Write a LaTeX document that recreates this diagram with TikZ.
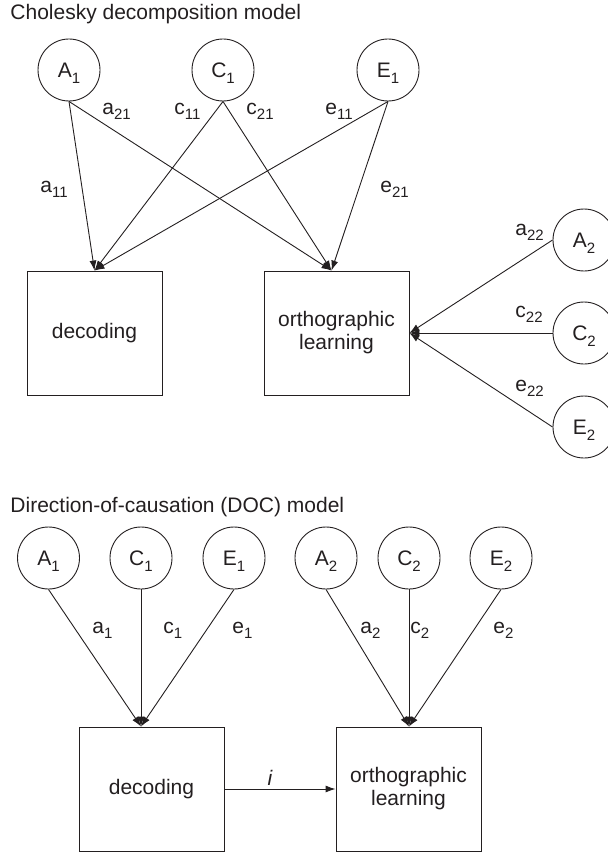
\documentclass[tikz,border=0pt]{standalone}
\usepackage{fontspec}
\setmainfont{Liberation Sans}
\usetikzlibrary{arrows.meta}
\definecolor{ink}{RGB}{35,31,32}
\newcommand{\sbx}[1]{\smash{\raisebox{-5pt}{\fontsize{15}{15}\selectfont #1}}}
\newcommand{\sbc}[1]{\smash{\raisebox{-6.5pt}{\fontsize{15}{15}\selectfont #1}}}
\begin{document}
\begin{tikzpicture}[x=1pt,y=-1pt,
  font=\fontsize{21}{23}\selectfont, color=ink, line width=0.9pt,
  latent/.style={draw, circle, minimum size=62pt, inner sep=0pt},
  obs/.style={draw, rectangle, inner sep=0pt, align=center},
  path/.style={-{Latex[length=10pt,width=7pt]}},
  lbl/.style={anchor=base west, inner sep=0pt},
  ttl/.style={anchor=base west, inner sep=0pt}]
\useasboundingbox (0,0) rectangle (607,853);

% ---------- Cholesky decomposition model ----------
\node[ttl] (t1) at (10,20) {Cholesky decomposition model};

\node[latent] (A1) at (69,70) {A\sbc{1}};
\node[latent] (C1) at (223,70) {C\sbc{1}};
\node[latent] (E1) at (388,70) {E\sbc{1}};

\node[obs, minimum width=135pt, minimum height=124pt] (dec1) at (94.5,333) {decoding};
\node[obs, minimum width=145pt, minimum height=124pt] (orth1) at (336.5,333) {orthographic\\learning};

\node[latent] (A2) at (584,240) {A\sbc{2}};
\node[latent] (C2) at (584,333) {C\sbc{2}};
\node[latent] (E2) at (584,427) {E\sbc{2}};

\coordinate (d1in) at (dec1.north);
\coordinate (o1in) at ([xshift=-5pt]orth1.north);

\draw[path] (A1.south) -- (d1in);
\draw[path] (A1.south) -- (o1in);
\draw[path] (C1.south) -- (d1in);
\draw[path] (C1.south) -- (o1in);
\draw[path] (E1.south) -- (d1in);
\draw[path] (E1.south) -- (o1in);

\draw[path] (A2.west) -- (orth1.east);
\draw[path] (C2.west) -- (orth1.east);
\draw[path] (E2.west) -- (orth1.east);

\node[lbl] (la21) at (102,115) {a\sbx{21}};
\node[lbl] (lc11) at (174,115) {c\sbx{11}};
\node[lbl] (lc21) at (246,115) {c\sbx{21}};
\node[lbl] (le11) at (325,115) {e\sbx{11}};
\node[lbl] (la11) at (40,193) {a\sbx{11}};
\node[lbl] (le21) at (380,193) {e\sbx{21}};
\node[lbl] (la22) at (515,235) {a\sbx{22}};
\node[lbl] (lc22) at (515,317) {c\sbx{22}};
\node[lbl] (le22) at (515,391) {e\sbx{22}};

% ---------- Direction-of-causation model ----------
\node[ttl] (t2) at (10,512) {Direction-of-causation (DOC) model};

\node[latent] (a1) at (48.5,558) {A\sbc{1}};
\node[latent] (c1) at (141,558) {C\sbc{1}};
\node[latent] (e1) at (234,558) {E\sbc{1}};
\node[latent] (a2) at (326,558) {A\sbc{2}};
\node[latent] (c2) at (409,558) {C\sbc{2}};
\node[latent] (e2) at (501,558) {E\sbc{2}};

\node[obs, minimum width=145pt, minimum height=124pt] (dec2) at (151.5,789) {decoding};
\node[obs, minimum width=145pt, minimum height=124pt] (orth2) at (408.5,789) {orthographic\\learning};

\coordinate (d2in) at (dec2.north -| c1);
\coordinate (o2in) at (orth2.north -| c2);

\draw[path] (a1.south) -- (d2in);
\draw[path] (c1.south) -- (d2in);
\draw[path] (e1.south) -- (d2in);
\draw[path] (a2.south) -- (o2in);
\draw[path] (c2.south) -- (o2in);
\draw[path] (e2.south) -- (o2in);

\draw[path] (dec2.east) -- (orth2.west);

\node[lbl] (la1) at (92,633) {a\sbx{1}};
\node[lbl] (lc1) at (163,633) {c\sbx{1}};
\node[lbl] (le1) at (232,633) {e\sbx{1}};
\node[lbl] (la2) at (360,633) {a\sbx{2}};
\node[lbl] (lc2) at (410,633) {c\sbx{2}};
\node[lbl] (le2) at (493,633) {e\sbx{2}};
\node[anchor=base, inner sep=0pt] (li) at (270,785) {\itshape i};
\end{tikzpicture}
\end{document}
